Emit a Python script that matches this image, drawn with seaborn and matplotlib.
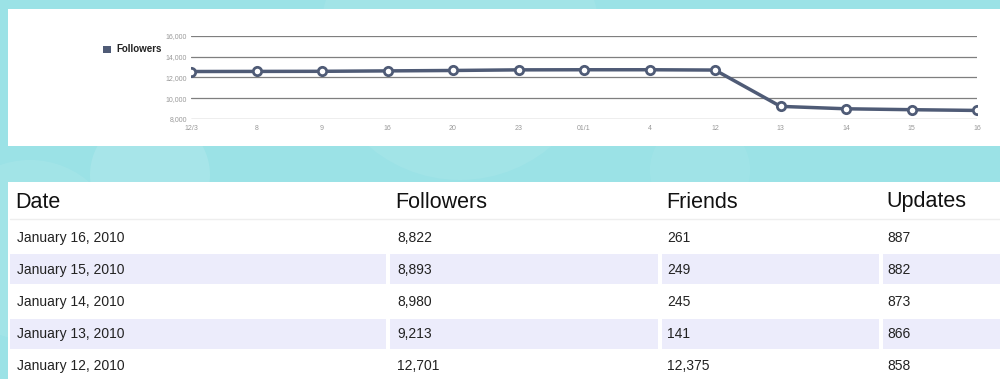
import numpy as np
import pandas as pd
import matplotlib
matplotlib.use("Agg")
import matplotlib.pyplot as plt
from matplotlib.patches import Rectangle, Circle
import seaborn as sns

# ---------------- data ----------------
x_labels = ["12/3", "8", "9", "16", "20", "23", "01/1", "4", "12", "13", "14", "15", "16"]
followers_chart = [12560, 12570, 12580, 12620, 12660, 12720, 12730, 12730, 12701, 9213, 8980, 8893, 8822]
y_ticks = [8000, 10000, 12000, 14000, 16000]

table_headers = ["Date", "Followers", "Friends", "Updates"]
table_dates = ["January 16, 2010", "January 15, 2010", "January 14, 2010",
               "January 13, 2010", "January 12, 2010"]
table_followers = ["8,822", "8,893", "8,980", "9,213", "12,701"]
table_friends = ["261", "249", "245", "141", "12,375"]
table_updates = ["887", "882", "873", "866", "858"]

# ---------------- style ----------------
sns.set_theme(style="white")
plt.rcParams["font.family"] = ["Liberation Sans", "DejaVu Sans"]

W, H = 1000, 379
fig = plt.figure(figsize=(10, 3.79), dpi=100)
bg_col = "#9be2e6"
fig.patch.set_facecolor(bg_col)

# background / page layer in pixel coordinates
bg = fig.add_axes([0, 0, 1, 1], zorder=0)
bg.set_xlim(0, W)
bg.set_ylim(H, 0)
bg.axis("off")
bg.add_patch(Rectangle((0, 0), W, H, color=bg_col, zorder=0))
# soft decorative bubbles
for (cx, cy, r, a) in [(150, 175, 60, 0.12), (460, 40, 140, 0.07), (30, 250, 90, 0.08), (700, 170, 50, 0.06)]:
    bg.add_patch(Circle((cx, cy), r, color="white", alpha=a, zorder=0.5, lw=0))
# white chart panel
bg.add_patch(Rectangle((8, 9), W - 8, 137, color="white", zorder=1, lw=0))
# white table panel
bg.add_patch(Rectangle((8, 182), W - 8, H - 182, color="white", zorder=1, lw=0))

# table stripes
col_bounds = [(10, 386), (390, 658), (662, 879), (883, 1000)]
row_tops = [219, 253, 285, 318, 350]
row_bots = [253, 285, 318, 350, 379]
lav = "#ececfb"
for i, (t, b) in enumerate(zip(row_tops, row_bots)):
    if i % 2 == 1:
        for (l, r) in col_bounds:
            bg.add_patch(Rectangle((l, t + 1), r - l, b - t - 2, color=lav, zorder=2, lw=0))
bg.plot([10, W], [219, 219], color="#eeeeee", lw=1, zorder=2)

col_x = [15, 395, 666, 886]
for x, h in zip(col_x, table_headers):
    bg.text(x, 202, h, fontsize=15.5, color="#111111", va="center", ha="left", zorder=3)
row_y = [238, 270, 302, 334, 366]
cols = [table_dates, table_followers, table_friends, table_updates]
col_x_rows = [17, 397, 667, 887]
for x, vals in zip(col_x_rows, cols):
    for y, v in zip(row_y, vals):
        bg.text(x, y, v, fontsize=10, color="#222222", va="center", ha="left", zorder=3)

# legend
bg.add_patch(Rectangle((103, 45.5), 7.5, 7.5, color="#4f5b76", zorder=3, lw=0))
bg.text(116, 49.5, "Followers", fontsize=7, fontweight="bold", color="#222222",
        va="center", ha="left", zorder=3)

# ---------------- chart ----------------
left, right = 191 / W, 977 / W
top, bottom = 1 - 35.7 / H, 1 - 119 / H
ax = fig.add_axes([left, bottom, right - left, top - bottom], zorder=2)
ax.patch.set_alpha(0)

df = pd.DataFrame({"pos": np.arange(len(x_labels)), "label": x_labels, "followers": followers_chart})
line_col = "#4f5b76"
sns.lineplot(data=df, x="pos", y="followers", ax=ax, color=line_col, lw=2.5,
             marker="o", markersize=6, markerfacecolor="white", markeredgecolor=line_col,
             markeredgewidth=2, zorder=5, legend=False)

ax.set_xlim(0, len(x_labels) - 1)
ax.set_ylim(8000, 16000)
ax.set_yticks(y_ticks)
ax.set_yticklabels([f"{v:,}" for v in y_ticks])
ax.set_xticks(df["pos"])
ax.set_xticklabels(x_labels)
for y in y_ticks:
    ax.axhline(y, color="#7f7f7f", lw=0.9, zorder=1)
ax.tick_params(axis="both", length=0, labelsize=5, labelcolor="#999999")
ax.tick_params(axis="x", pad=4)
ax.tick_params(axis="y", pad=3)
ax.set_xlabel("")
ax.set_ylabel("")
for s in ax.spines.values():
    s.set_visible(False)
ax.grid(False)

fig.savefig("out.png", dpi=100, facecolor=fig.get_facecolor())
